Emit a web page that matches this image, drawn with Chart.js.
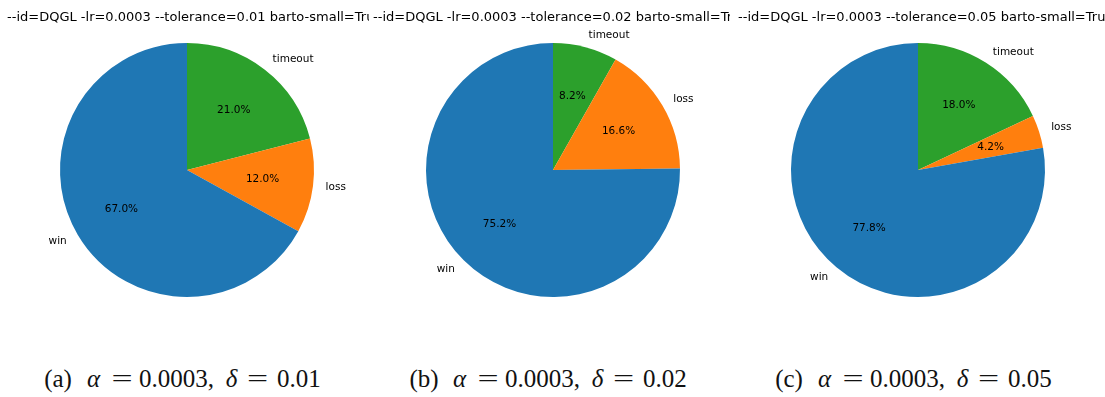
<!DOCTYPE html>
<html>
<head>
<meta charset="utf-8">
<script src="https://cdn.jsdelivr.net/npm/chart.js@4.4.0/dist/chart.umd.min.js"></script>
<style>
  body { margin: 0; background: #fff; width: 1105px; height: 397px; overflow: hidden; position: relative; }
  .panel { position: absolute; top: 0; height: 345px; overflow: hidden; }
  .panel canvas { position: absolute; left: 0; top: 0; }
  .ttl { position: absolute; top: 9px; white-space: nowrap; font-family: "DejaVu Sans"; font-size: 13px; color: #000; }
  .cap { position: absolute; top: 366px; font-family: "Liberation Serif"; font-size: 25px; line-height: 25px; color: #111; white-space: nowrap; }
  .cap span { display: inline-block; text-align: center; }
  .cap i { font-style: italic; }
  .cap .eq { transform: scaleX(1.5); }
</style>
</head>
<body>
<script>
// data
var categories = ["timeout", "loss", "win"];
var sharesTol001 = [21.0, 12.0, 67.0];
var sharesTol002 = [8.2, 16.6, 75.2];
var sharesTol005 = [18.0, 4.2, 77.8];
var colors = ["#2ca02c", "#ff7f0e", "#1f77b4"];
var lr = "0.0003";
var tolerances = ["0.01", "0.02", "0.05"];
var subLetters = ["(a)", "(b)", "(c)"];

// panel geometry (left, width, title offset, pie center x, pie center y, radius, caption start)
var panels = [
  { left: 0,   width: 369, tx: 7, cx: 187, cy: 170, r: 127, cap: 42,  series: sharesTol001 },
  { left: 370, width: 360, tx: 3, cx: 183, cy: 170, r: 127, cap: 408, series: sharesTol002 },
  { left: 735, width: 370, tx: 3, cx: 183, cy: 170, r: 127, cap: 773, series: sharesTol005 }
];

// matplotlib-style labels: category outside, percentage inside
var pieLabels = {
  id: "pieLabels",
  afterDatasetsDraw: function(chart) {
    var ctx = chart.ctx;
    var ds = chart.data.datasets[0];
    var total = ds.data.reduce(function(a, b) { return a + b; }, 0);
    var meta = chart.getDatasetMeta(0);
    ctx.save();
    ctx.fillStyle = "#000";
    ctx.font = "10.5px 'DejaVu Sans'";
    ctx.textBaseline = "middle";
    meta.data.forEach(function(arc, i) {
      var p = arc.getProps(["x", "y", "startAngle", "endAngle", "outerRadius"], true);
      var mid = (p.startAngle + p.endAngle) / 2;
      var c = Math.cos(mid), s = Math.sin(mid);
      ctx.textAlign = c > 0 ? "left" : "right";
      ctx.fillText(chart.data.labels[i], p.x + c * p.outerRadius * 1.1, p.y + s * p.outerRadius * 1.1);
      ctx.textAlign = "center";
      var pct = (ds.data[i] / total * 100).toFixed(1) + "%";
      ctx.fillText(pct, p.x + c * p.outerRadius * 0.6, p.y + s * p.outerRadius * 0.6);
    });
    ctx.restore();
  }
};

// caption pieces laid out like the LaTeX subcaption
function makeCaption(k) {
  var parts = [
    [subLetters[k], 32, 0, ""],
    ["α", 19, 10, "i"],
    ["=", 22, 8, "eq"],
    [lr + ",", 74, 6, ""],
    ["δ", 13, 12, "i"],
    ["=", 21, 9, "eq"],
    [tolerances[k], 40, 9, ""]
  ];
  var html = "";
  parts.forEach(function(p) {
    var txt = p[3] == "i" ? "<i>" + p[0] + "</i>" : p[0];
    var cls = p[3] == "eq" ? " class='eq'" : "";
    html += "<span" + cls + " style='width:" + p[1] + "px;margin-left:" + p[2] + "px'>" + txt + "</span>";
  });
  return html;
}

panels.forEach(function(pn, k) {
  var div = document.createElement("div");
  div.className = "panel";
  div.style.left = pn.left + "px";
  div.style.width = pn.width + "px";
  document.body.appendChild(div);

  var cv = document.createElement("canvas");
  cv.width = pn.width;
  cv.height = 345;
  div.appendChild(cv);

  var t = document.createElement("div");
  t.className = "ttl";
  t.style.left = pn.tx + "px";
  t.textContent = "--id=DQGL -lr=" + lr + " --tolerance=" + tolerances[k] + " barto-small=True";
  div.appendChild(t);

  var cap = document.createElement("div");
  cap.className = "cap";
  cap.style.left = pn.cap + "px";
  cap.innerHTML = makeCaption(k);
  document.body.appendChild(cap);

  new Chart(cv, {
    type: "pie",
    data: {
      labels: categories,
      datasets: [{
        data: pn.series,
        backgroundColor: colors,
        borderWidth: 0
      }]
    },
    options: {
      responsive: false,
      animation: false,
      devicePixelRatio: 1,
      layout: {
        padding: {
          left: pn.cx - pn.r,
          right: pn.width - pn.cx - pn.r,
          top: pn.cy - pn.r,
          bottom: 345 - pn.cy - pn.r
        }
      },
      plugins: {
        legend: { display: false },
        tooltip: { enabled: false }
      }
    },
    plugins: [pieLabels]
  });
});
</script>
</body>
</html>
